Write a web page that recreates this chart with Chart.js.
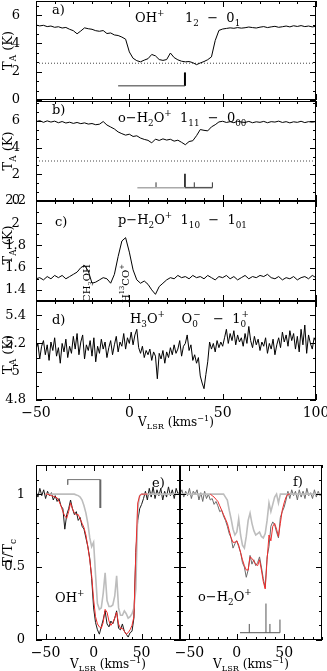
<!DOCTYPE html>
<html>
<head>
<meta charset="utf-8">
<script src="https://cdn.jsdelivr.net/npm/chart.js@4.4.1/dist/chart.umd.min.js"></script>
<style>
html,body{margin:0;padding:0;background:#fff;}
body{width:327px;height:671px;position:relative;overflow:hidden;}
canvas{position:absolute;}
</style>
</head>
<body>
<canvas id="ca" width="327" height="112" style="left:0;top:0"></canvas>
<canvas id="cb" width="327" height="122" style="left:0;top:91px"></canvas>
<canvas id="cc" width="327" height="122" style="left:0;top:191px"></canvas>
<canvas id="cd" width="327" height="140" style="left:0;top:291px"></canvas>
<canvas id="ce" width="190" height="216" style="left:0;top:455px"></canvas>
<canvas id="cf" width="157" height="216" style="left:170px;top:455px"></canvas>
<script>
// Spectra toward the continuum source: OH+, o-H2O+, p-H2O+, H3O+ and normalised fits
const FONT = '"DejaVu Serif", "Liberation Serif", serif';

// channel grids (first channel, channel width in km/s)
const GRID_ABC = [-50, 2];
const GRID_D = [-50, 1];
const GRID_EF = [-60, 2];

// a) OH+ 1_2-0_1, T_A (K)
const OHP_TA = [
  5.30, 5.24, 5.28, 5.19, 5.23, 5.14, 5.18, 5.09, 5.13, 5.00,
  4.90, 4.68, 4.88, 5.10, 5.04, 5.00, 4.90, 4.86, 4.91, 4.70,
  4.74, 4.60, 4.56, 4.45, 4.30, 3.40, 2.95, 2.78, 2.70, 2.82,
  2.92, 3.22, 3.12, 2.86, 2.80, 2.86, 3.32, 3.00, 2.84, 2.74,
  2.70, 2.72, 2.64, 2.50, 2.62, 2.72, 2.85, 3.05, 4.20, 4.92,
  5.02, 5.06, 5.10, 5.07, 5.12, 5.08, 5.11, 5.16, 5.12, 5.09,
  5.15, 5.19, 5.12, 5.17, 5.21, 5.14, 5.18, 5.23, 5.17, 5.25,
  5.20, 5.26, 5.19, 5.23, 5.17, 5.21
];
const OHP_CONT = 2.6;
const OHP_BAR = [-6, 29.8];
const OHP_BAR_Y = 1.0;
const OHP_HFS_V = [29.8];
const OHP_HFS_TOP = [1.95];

// b) o-H2O+ 1_11-0_00
const OH2O_TA = [
  5.95, 6.03, 5.90, 6.01, 5.92, 5.99, 5.87, 5.96, 5.85, 5.91,
  5.82, 5.89, 5.80, 5.86, 5.77, 5.81, 5.72, 5.76, 5.96, 5.70,
  5.55, 5.40, 5.18, 5.05, 4.94, 5.01, 4.84, 4.89, 4.72, 4.62,
  4.55, 4.36, 4.64, 4.54, 4.66, 4.57, 4.63, 4.49, 4.56, 4.40,
  4.22, 4.46, 4.52, 4.90, 5.36, 5.30, 5.26, 5.56, 5.72, 5.93,
  5.98, 5.89, 5.95, 5.87, 5.99, 5.92, 5.89, 5.97, 5.87, 5.94,
  5.90, 5.97, 5.87, 5.95, 5.92, 5.99, 5.89, 5.95, 5.86, 5.94,
  5.90, 5.98, 5.88, 5.95, 5.91, 5.96
];
const OH2O_CONT = 3.0;
const OH2O_BAR = [4.3, 29.8, 44.5];
const OH2O_BAR_Y = 1.0;
const OH2O_HFS_V = [14.3, 34.8, 44.5];
const OH2O_HFS_TOP = [1.4, 1.4, 1.4];
const OH2O_MAIN_V = [29.8];
const OH2O_MAIN_TOP = [2.05];

// c) p-H2O+ 1_10-1_01
const PH2O_TA = [
  1.50, 1.51, 1.49, 1.52, 1.50, 1.53, 1.51, 1.53, 1.50, 1.52,
  1.54, 1.56, 1.60, 1.62, 1.57, 1.46, 1.47, 1.49, 1.51, 1.50,
  1.46, 1.54, 1.70, 1.84, 1.87, 1.74, 1.58, 1.49, 1.46, 1.48,
  1.45, 1.40, 1.36, 1.43, 1.46, 1.49, 1.51, 1.50, 1.53, 1.51,
  1.52, 1.50, 1.53, 1.51, 1.52, 1.50, 1.53, 1.51, 1.49, 1.52,
  1.51, 1.53, 1.50, 1.52, 1.49, 1.51, 1.53, 1.50, 1.52, 1.51,
  1.53, 1.52, 1.54, 1.51, 1.50, 1.52, 1.49, 1.51, 1.50, 1.52,
  1.49, 1.51, 1.52, 1.50, 1.53, 1.51
];
const CH3OH_V = -22.7;
const H13COP_V = -2.3;

// d) H3O+ 0_0^- - 1_0^+
const H3O_TA = [
  5.16, 5.20, 5.09, 5.18, 5.22, 5.12, 5.19, 5.08, 5.21, 5.15,
  5.24, 5.11, 5.17, 5.06, 5.20, 5.14, 5.23, 5.10, 5.18, 5.13,
  5.25, 5.16, 5.27, 5.12, 5.21, 5.26, 5.09, 5.19, 5.15, 5.22,
  5.11, 5.24, 5.07, 5.18, 5.13, 5.23, 5.16, 5.21, 5.10, 5.17,
  5.22, 5.12, 5.19, 5.25, 5.14, 5.21, 5.18, 5.27, 5.16, 5.24,
  5.20, 5.28, 5.19, 5.26, 5.30, 5.17, 5.13, 5.18, 5.10, 5.15,
  5.12, 5.16, 5.08, 5.14, 5.11, 4.95, 5.13, 5.09, 5.15, 5.06,
  5.14, 5.10, 5.17, 5.12, 5.19, 5.13, 5.16, 5.22, 5.11, 5.18,
  5.20, 5.26, 5.15, 5.19, 5.08, 5.12, 5.06, 5.10, 4.97, 4.92,
  4.88, 4.98, 5.07, 5.21, 5.16, 5.20, 5.14, 5.22, 5.17, 5.21,
  5.18, 5.24, 5.30, 5.20, 5.27, 5.22, 5.29, 5.19, 5.26, 5.21,
  5.24, 5.18, 5.27, 5.20, 5.32, 5.22, 5.17, 5.25, 5.19, 5.23,
  5.15, 5.21, 5.18, 5.24, 5.13, 5.20, 5.16, 5.23, 5.12, 5.19,
  5.24, 5.17, 5.28, 5.21, 5.26, 5.18, 5.29, 5.22, 5.27, 5.16,
  5.25, 5.14, 5.30, 5.19, 5.33, 5.13, 5.26, 5.20, 5.16, 5.24,
  5.21
];

// e) OH+ normalised, T/Tc
const E_OBS = [
  1.02, 0.98, 1.04, 0.99, 1.03, 0.97, 1.02, 0.99, 1.01, 0.96,
  0.99, 0.95, 0.97, 0.92, 0.90, 0.76, 0.86, 0.90, 0.96, 0.90,
  0.86, 0.88, 0.82, 0.84, 0.78, 0.76, 0.70, 0.64, 0.56, 0.42,
  0.22, 0.12, 0.07, 0.04, 0.09, 0.14, 0.20, 0.11, 0.09, 0.13,
  0.11, 0.15, 0.20, 0.08, 0.07, 0.11, 0.06, 0.04, 0.02, 0.05,
  0.06, 0.15, 0.60, 0.82, 0.90, 0.93, 0.97, 1.02, 0.96, 1.04,
  0.98, 1.05, 0.97, 1.03, 0.99, 1.04, 0.96, 1.02, 0.98, 1.05,
  0.99, 1.03, 0.97, 1.04, 1.00, 1.02
];
const E_RED_V0 = -50;
const E_RED = [
  1.00, 1.00, 0.995, 0.99, 0.985, 0.98, 0.975, 0.95, 0.92, 0.88,
  0.85, 0.835, 0.88, 0.94, 0.90, 0.87, 0.86, 0.86, 0.83, 0.80,
  0.77, 0.72, 0.64, 0.55, 0.44, 0.28, 0.16, 0.11, 0.09, 0.08,
  0.12, 0.21, 0.19, 0.13, 0.10, 0.12, 0.15, 0.19, 0.11, 0.08,
  0.08, 0.06, 0.04, 0.05, 0.07, 0.10, 0.16, 0.60, 0.94, 0.99,
  1.00, 1.00, 1.00, 1.00
];
const E_GRAY_V0 = -50;
const E_GRAY = [
  1.00, 1.00, 1.00, 1.00, 1.00, 1.00, 1.00, 1.00, 1.00, 1.00,
  1.00, 1.00, 1.00, 1.00, 1.00, 1.00, 0.995, 0.99, 0.98, 0.96,
  0.92, 0.87, 0.80, 0.70, 0.64, 0.67, 0.45, 0.25, 0.21, 0.22,
  0.32, 0.46, 0.27, 0.23, 0.23, 0.24, 0.30, 0.44, 0.22, 0.17,
  0.17, 0.20, 0.18, 0.15, 0.16, 0.18, 0.22, 0.35, 0.90, 0.99,
  1.00, 1.00, 1.00, 1.00, 1.00, 1.00, 1.00, 1.00, 1.00, 1.00,
  1.00, 1.00, 1.00, 1.00, 1.00, 1.00, 1.00, 1.00, 1.00, 1.00,
  1.00
];
const E_BAR = [-27, 7];
const E_BAR_Y = 1.1;
const E_LEFT_END = 1.065;
const E_RIGHT_END = 0.905;

// f) o-H2O+ normalised
const F_OBS = [
  1.00, 1.03, 0.98, 1.02, 0.99, 1.04, 0.97, 1.02, 1.00, 1.03,
  0.96, 1.01, 0.95, 1.02, 0.97, 1.00, 0.96, 0.97, 0.93, 0.95,
  0.92, 0.88, 0.89, 0.85, 0.82, 0.78, 0.73, 0.70, 0.63, 0.66,
  0.68, 0.64, 0.60, 0.53, 0.50, 0.43, 0.48, 0.58, 0.52, 0.55,
  0.51, 0.53, 0.57, 0.50, 0.42, 0.36, 0.57, 0.64, 0.78, 0.81,
  0.79, 0.74, 0.70, 0.84, 0.88, 0.91, 0.96, 1.02, 0.97, 1.03,
  0.99, 1.02, 0.96, 1.03, 0.98, 1.02, 0.97, 1.04, 0.99, 1.01,
  0.97, 1.03, 0.98, 1.02, 0.99, 1.01
];
const F_RED_V0 = -28;
const F_RED = [
  1.00, 0.99, 0.98, 0.965, 0.95, 0.92, 0.89, 0.86, 0.83, 0.80,
  0.75, 0.70, 0.67, 0.67, 0.68, 0.65, 0.60, 0.55, 0.51, 0.48,
  0.48, 0.57, 0.56, 0.54, 0.52, 0.51, 0.55, 0.48, 0.40, 0.35,
  0.55, 0.72, 0.68, 0.78, 0.80, 0.76, 0.71, 0.80, 0.89, 0.94,
  0.98, 1.00, 1.00
];
const F_GRAY = [
  1.00, 1.00, 1.00, 1.00, 1.00, 1.00, 1.00, 1.00, 1.00, 1.00,
  1.00, 1.00, 1.00, 1.00, 1.00, 1.00, 1.00, 1.00, 1.00, 1.00,
  1.00, 1.00, 1.00, 1.00, 0.98, 0.96, 0.89, 0.83, 0.76, 0.72,
  0.74, 0.83, 0.72, 0.65, 0.63, 0.71, 0.82, 0.87, 0.80, 0.75,
  0.72, 0.73, 0.74, 0.71, 0.70, 0.73, 0.82, 0.94, 0.88, 0.93,
  0.98, 1.00, 0.94, 1.00, 1.00, 1.00, 1.00, 1.00, 1.00, 1.00,
  1.00, 1.00, 1.00, 1.00, 1.00, 1.00, 1.00, 1.00, 1.00, 1.00,
  1.00, 1.00, 1.00, 1.00, 1.00, 1.00
];
const F_BAR = [3.4, 45.6];
const F_BAR_Y = 0.05;
const F_HFS_V = [13.2, 30.8, 35.0, 45.6];
const F_HFS_TOP = [0.11, 0.25, 0.11, 0.14];

// axis ranges and ticks
const X_TOP = [-50, 100];
const X_EF = [-60, 90];
const X_TICKS_D = [-50, 0, 50, 100];
const X_TICKS_EF = [-50, 0, 50];
const Y_TICKS_A = [0, 2, 4, 6];
const Y_TICKS_B = [0, 2, 4, 6];
const Y_TICKS_C = [1.4, 1.6, 1.8, 2, 2.2];
const Y_TICKS_D = [4.8, 5, 5.2, 5.4];
const Y_TICKS_E = [0, 0.5, 1];

// labels: [text], [text,'^'], [text,'_'], [sub,'_^',sup]
const T_A = [['OH'], ['+', '^'], ['     1'], ['2', '_'], ['  \u2212  0'], ['1', '_']];
const T_B = [['o\u2212H'], ['2', '_'], ['O'], ['+', '^'], ['  1'], ['11', '_'], ['  \u2212  0'], ['00', '_']];
const T_C = [['p\u2212H'], ['2', '_'], ['O'], ['+', '^'], ['  1'], ['10', '_'], ['  \u2212  1'], ['01', '_']];
const T_D = [['H'], ['3', '_'], ['O'], ['+', '^'], ['    O'], ['0', '_^', '\u2212'], ['   \u2212  1'], ['0', '_^', '+']];
const L_CH3OH = [['CH'], ['3', '_'], ['OH']];
const L_H13CO = [['H'], ['13', '^'], ['CO'], ['+', '^']];
const L_OHP = [['OH'], ['+', '^']];
const L_OH2O = [['o\u2212H'], ['2', '_'], ['O'], ['+', '^']];
const YT_TA = [['T'], ['A', '_'], [' (K)']];
const YT_TC = [['T/T'], ['c', '_']];
const XT_V = [['V'], ['LSR', '_'], [' (kms'], ['\u22121', '^'], [')']];

function fmt(v){ return (v < 0 ? '\u2212' : '') + Math.abs(v); }

function spectrum(grid, vals){ return vals.map((t, i) => ({x: grid[0] + i * grid[1], y: t})); }
function hline(xs, yv){ return xs.map(v => ({x: v, y: yv})); }
function sticks(vs, base, tops){
  const out = [];
  vs.forEach((v, i) => { out.push({x: v, y: base}, {x: v, y: tops[i]}, {x: v, y: null}); });
  return out;
}
function line(data, color, width, dash){
  return {data, borderColor: color, borderWidth: width || 1, borderDash: dash || [],
          pointRadius: 0, fill: false, tension: 0, spanGaps: false};
}

function rich(ctx, segs, x, y, size, measure){
  let cx = x;
  ctx.textAlign = 'left'; ctx.textBaseline = 'alphabetic'; ctx.fillStyle = '#000';
  for (const [t, k, sup] of segs){
    if (!k){
      ctx.font = size + 'px ' + FONT;
      if (!measure) ctx.fillText(t, cx, y);
      cx += ctx.measureText(t).width;
    } else {
      const s = size * 0.68;
      ctx.font = s + 'px ' + FONT;
      let w = ctx.measureText(t).width;
      if (!measure) ctx.fillText(t, cx, y + (k === '^' ? -size * 0.45 : size * 0.28));
      if (k === '_^'){
        if (!measure) ctx.fillText(sup, cx + 1, y - size * 0.5);
        w = Math.max(w, ctx.measureText(sup).width + 1);
      }
      cx += w;
    }
  }
  return cx - x;
}
function richCenter(ctx, segs, cx, y, size){
  const w = rich(ctx, segs, 0, 0, size, true);
  rich(ctx, segs, cx - w / 2, y, size);
}
function rot(ctx, segs, x, y, size, center){
  ctx.save();
  ctx.translate(x, y); ctx.rotate(-Math.PI / 2);
  const w = rich(ctx, segs, 0, 0, size, true);
  rich(ctx, segs, center ? -w / 2 : 0, 0, size);
  ctx.restore();
}

// boxed frame with inward ticks on all four sides
function frame(f){
  return {
    id: 'frame',
    afterDatasetsDraw(chart){
      const {ctx, chartArea: a, scales: {x, y}} = chart;
      ctx.save();
      ctx.strokeStyle = '#000'; ctx.lineWidth = 1;
      ctx.strokeRect(a.left + 0.5, a.top + 0.5, a.width - 1, a.height - 1);
      const ticksFor = (min, max, major, ndiv) => {
        const step = major / ndiv, out = [];
        const k0 = Math.ceil(min / step - 1e-6), k1 = Math.floor(max / step + 1e-6);
        for (let k = k0; k <= k1; k++) out.push({v: k * step, major: k % ndiv === 0});
        return out;
      };
      ctx.beginPath();
      for (const t of ticksFor(x.min, x.max, f.xMajor, f.xDiv)){
        const px = Math.round(x.getPixelForValue(t.v)) + 0.5, L = t.major ? 6 : 3;
        ctx.moveTo(px, a.bottom); ctx.lineTo(px, a.bottom - L);
        ctx.moveTo(px, a.top); ctx.lineTo(px, a.top + L);
      }
      for (const t of ticksFor(y.min, y.max, f.yMajor, f.yDiv)){
        const py = Math.round(y.getPixelForValue(t.v)) + 0.5, L = t.major ? 6 : 3;
        ctx.moveTo(a.left, py); ctx.lineTo(a.left + L, py);
        ctx.moveTo(a.right, py); ctx.lineTo(a.right - L, py);
      }
      ctx.stroke();
      ctx.restore();
    }
  };
}

function mkChart(id, c){
  return new Chart(document.getElementById(id), {
    type: 'line',
    data: {datasets: c.datasets},
    options: {
      responsive: false, animation: false, events: [],
      layout: {padding: c.pad},
      plugins: {legend: {display: false}, tooltip: {enabled: false}},
      scales: {
        x: {type: 'linear', min: c.x[0], max: c.x[1], display: !!c.xTicks,
            grid: {display: false}, border: {display: false},
            ticks: {color: '#000', font: {family: FONT, size: 14}, padding: c.xPad || 0,
                    maxRotation: 0, autoSkip: false, callback: fmt},
            afterBuildTicks: s => { if (c.xTicks) s.ticks = c.xTicks.map(v => ({value: v})); },
            afterFit: s => { s.height = c.xH || 0; s.paddingLeft = 0; s.paddingRight = 0; }},
        y: {type: 'linear', min: c.y[0], max: c.y[1],
            grid: {display: false}, border: {display: false},
            ticks: {display: !!c.yTicks, color: '#000', font: {family: FONT, size: 13},
                    padding: c.yPad || 3, crossAlign: c.yAlign || 'center', autoSkip: false, callback: fmt},
            afterBuildTicks: s => { if (c.yTicks) s.ticks = c.yTicks.map(v => ({value: v})); },
            afterFit: s => { s.width = c.yW; s.paddingTop = 0; s.paddingBottom = 0; }}
      }
    },
    plugins: [frame(c.frame), {id: 'notes', afterDraw: ch => c.notes(ch, ch.ctx, ch.chartArea)}]
  });
}

const TOP_FRAME = {xMajor: 50, xDiv: 5};

mkChart('ca', {
  x: X_TOP, y: [0, 7], yTicks: Y_TICKS_A, yW: 36, yPad: 8,
  pad: {top: 1, bottom: 12, left: 0, right: 11},
  frame: Object.assign({yMajor: 2, yDiv: 3}, TOP_FRAME),
  datasets: [
    line(spectrum(GRID_ABC, OHP_TA), '#000', 1),
    line(hline(X_TOP, OHP_CONT), '#444', 1, [1, 2]),
    line(hline(OHP_BAR, OHP_BAR_Y), '#333', 1),
    line(sticks(OHP_HFS_V, OHP_BAR_Y, OHP_HFS_TOP), '#000', 2)
  ],
  notes(ch, ctx, a){
    rich(ctx, [['a)']], a.left + 16, a.top + 13, 13);
    rich(ctx, T_A, a.left + 99, a.top + 21, 13);
    rot(ctx, YT_TA, 12, (a.top + a.bottom) / 2, 13, true);
  }
});

mkChart('cb', {
  x: X_TOP, y: [0, 7.5], yTicks: Y_TICKS_B, yW: 36, yPad: 8,
  pad: {top: 10, bottom: 12, left: 0, right: 11},
  frame: Object.assign({yMajor: 2, yDiv: 3}, TOP_FRAME),
  datasets: [
    line(spectrum(GRID_ABC, OH2O_TA), '#000', 1),
    line(hline(X_TOP, OH2O_CONT), '#444', 1, [1, 2]),
    line(hline(OH2O_BAR.slice(0, 2), OH2O_BAR_Y), '#aaa', 1.5),
    line(hline(OH2O_BAR.slice(1), OH2O_BAR_Y), '#555', 1.5),
    line(sticks(OH2O_HFS_V, OH2O_BAR_Y, OH2O_HFS_TOP), '#333', 1),
    line(sticks(OH2O_MAIN_V, OH2O_BAR_Y, OH2O_MAIN_TOP), '#000', 1.5)
  ],
  notes(ch, ctx, a){
    rich(ctx, [['b)']], a.left + 16, a.top + 13, 13);
    rich(ctx, T_B, a.left + 82, a.top + 21, 13);
    rot(ctx, YT_TA, 12, (a.top + a.bottom) / 2, 13, true);
  }
});

mkChart('cc', {
  x: X_TOP, y: [1.3, 2.2], yTicks: Y_TICKS_C, yW: 36, yPad: 2,
  pad: {top: 10, bottom: 12, left: 0, right: 11},
  frame: Object.assign({yMajor: 0.2, yDiv: 2}, TOP_FRAME),
  datasets: [line(spectrum(GRID_ABC, PH2O_TA), '#000', 1)],
  notes(ch, ctx, a){
    const x = ch.scales.x;
    rich(ctx, [['c)']], a.left + 19, a.top + 25, 13);
    rich(ctx, T_C, a.left + 82, a.top + 23, 13);
    rot(ctx, YT_TA, 12, (a.top + a.bottom) / 2 - 6, 13, true);
    rot(ctx, L_CH3OH, x.getPixelForValue(CH3OH_V) + 3.5, a.bottom + 1, 10, false);
    rot(ctx, L_H13CO, x.getPixelForValue(H13COP_V) + 3.5, a.bottom + 2, 10, false);
  }
});

mkChart('cd', {
  x: X_TOP, xTicks: X_TICKS_D, xH: 31, xPad: -3,
  y: [4.8, 5.5], yTicks: Y_TICKS_D, yW: 36, yPad: 2,
  pad: {top: 10, bottom: 0, left: 0, right: 11},
  frame: Object.assign({yMajor: 0.2, yDiv: 2}, TOP_FRAME),
  datasets: [line(spectrum(GRID_D, H3O_TA), '#000', 1)],
  notes(ch, ctx, a){
    rich(ctx, [['d)']], a.left + 16, a.top + 23, 13);
    rich(ctx, T_D, a.left + 94, a.top + 22, 13);
    rot(ctx, YT_TA, 12, (a.top + a.bottom) / 2 + 4, 13, true);
    richCenter(ctx, XT_V, (a.left + a.right) / 2, a.bottom + 26, 12);
  }
});

const EF_FRAME = {xMajor: 50, xDiv: 5, yMajor: 0.5, yDiv: 5};

mkChart('ce', {
  x: X_EF, xTicks: X_TICKS_EF, xH: 31, xPad: -3,
  y: [0, 1.2], yTicks: Y_TICKS_E, yW: 36, yPad: 3, yAlign: 'near',
  pad: {top: 10, bottom: 0, left: 0, right: 10},
  frame: EF_FRAME,
  datasets: [
    line(spectrum([E_RED_V0, 2], E_RED), '#ee2b2b', 1),
    line(spectrum([E_GRAY_V0, 2], E_GRAY), '#bdbdbd', 1.6),
    line(spectrum(GRID_EF, E_OBS), '#1a1a1a', 1),
    line(hline(E_BAR, E_BAR_Y), '#777', 1),
    line(sticks([E_BAR[0]], E_BAR_Y, [E_LEFT_END]), '#777', 1),
    line(sticks([E_BAR[1]], E_BAR_Y, [E_RIGHT_END]), '#666', 2)
  ],
  notes(ch, ctx, a){
    rich(ctx, [['e)']], a.left + 116, a.top + 22, 13);
    rich(ctx, L_OHP, a.left + 19, a.top + 137, 13);
    rot(ctx, YT_TC, 12, (a.top + a.bottom) / 2, 13, true);
    richCenter(ctx, XT_V, (a.left + a.right) / 2, a.bottom + 28, 12);
  }
});

mkChart('cf', {
  x: X_EF, xTicks: X_TICKS_EF, xH: 31, xPad: -3,
  y: [0, 1.2], yW: 10,
  pad: {top: 10, bottom: 0, left: 0, right: 5},
  frame: EF_FRAME,
  datasets: [
    line(spectrum([F_RED_V0, 2], F_RED), '#ee2b2b', 1),
    line(spectrum(GRID_EF, F_GRAY), '#bdbdbd', 1.6),
    line(spectrum(GRID_EF, F_OBS), '#6a6a6a', 1),
    line(hline(F_BAR, F_BAR_Y), '#555', 1),
    line(sticks(F_HFS_V, F_BAR_Y, F_HFS_TOP), '#555', 1)
  ],
  notes(ch, ctx, a){
    rich(ctx, [['f)']], a.left + 113, a.top + 21, 13);
    rich(ctx, L_OH2O, a.left + 18, a.top + 136, 13);
    richCenter(ctx, XT_V, (a.left + a.right) / 2, a.bottom + 28, 12);
  }
});
</script>
</body>
</html>
